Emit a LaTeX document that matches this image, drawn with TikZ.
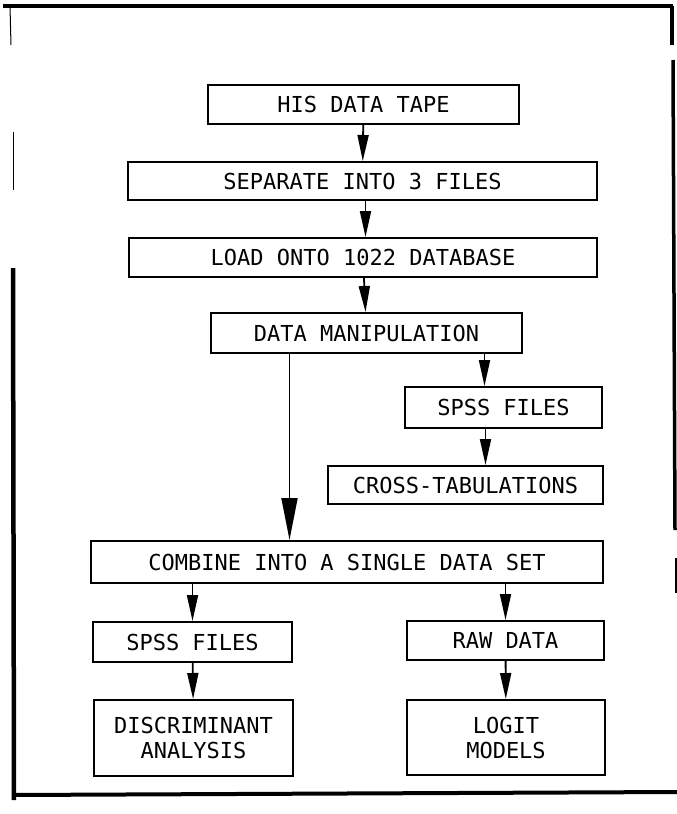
\documentclass[tikz,border=0pt]{standalone}
\usepackage{fontspec}
\setmonofont{DejaVu Sans Mono}
\usetikzlibrary{arrows.meta, positioning, calc}

\begin{document}
\begin{tikzpicture}[x=1pt, y=-1pt,
  box/.style={rectangle, draw, line width=2pt, inner sep=0pt, align=center, font=\ttfamily\fontsize{22}{25}\selectfont},
  arr/.style={line width=1.8pt, -{Triangle[length=26pt, width=11pt]}},
  longarr/.style={line width=1.8pt, -{Triangle[length=42pt, width=16pt]}},
  frame/.style={line width=3.5pt}]

\useasboundingbox (0,0) rectangle (677,814);

% outer frame (broken in places)
\draw[frame] (3,6) -- (673,6);
\draw[line width=1pt] (10,6) -- (11,45);
\draw[line width=1pt] (13,132) -- (13,190);
\draw[frame, line width=4.5pt] (13,268) -- (14,800);
\draw[frame, line width=4pt] (13,795) -- (677,792);
\draw[frame] (672,6) -- (672,45);
\draw[frame] (673,60) -- (675,530);
\draw[line width=1.5pt] (676,558) -- (676,593);

% main chain
\node[box, minimum width=311pt, minimum height=39pt] (tape) at (363.5,104.5) {HIS DATA TAPE};
\node[box, minimum width=469pt, minimum height=38pt] (split) at (362.5,181) {SEPARATE INTO 3 FILES};
\node[box, minimum width=468pt, minimum height=39pt] (load) at (363,257.5) {LOAD ONTO 1022 DATABASE};
\node[box, minimum width=311pt, minimum height=40pt] (manip) at (366.5,333) {DATA MANIPULATION};

% right branch
\node[box, minimum width=197pt, minimum height=41pt] (spssa) at (503.5,407.5) {SPSS FILES};
\node[box, minimum width=275pt, minimum height=38pt] (xtab) at (465.5,485) {CROSS-TABULATIONS};

\node[box, minimum width=512pt, minimum height=42pt] (combine) at (347,562) {COMBINE INTO A SINGLE DATA SET};

% bottom branches
\node[box, minimum width=199pt, minimum height=40pt] (spssb) at (192.5,642) {SPSS FILES};
\node[box, minimum width=199pt, minimum height=76pt] (discr) at (193.5,738) {DISCRIMINANT\\ANALYSIS};
\node[box, minimum width=197pt, minimum height=39pt] (raw) at (505.5,640.5) {RAW DATA};
\node[box, minimum width=198pt, minimum height=75pt] (logit) at (506,737.5) {LOGIT\\MODELS};

\draw[arr] (tape) -- (split);
\draw[arr] ([xshift=3pt]split.south) -- ([xshift=3pt]split.south |- load.north);
\draw[arr] (load) -- (manip);
\draw[arr] ([xshift=-19pt]spssa.north |- manip.south) -- ([xshift=-19pt]spssa.north);
\draw[arr] ([xshift=-18pt]spssa.south) -- ([xshift=-18pt]spssa.south |- xtab.north);
\draw[longarr] ([xshift=-77pt]manip.south) -- ([xshift=-77pt]manip.south |- combine.north);
\draw[arr] (spssb.north |- combine.south) -- (spssb);
\draw[arr] (spssb) -- (discr);
\draw[arr] (raw.north |- combine.south) -- (raw);
\draw[arr] (raw) -- (logit);

\end{tikzpicture}
\end{document}
